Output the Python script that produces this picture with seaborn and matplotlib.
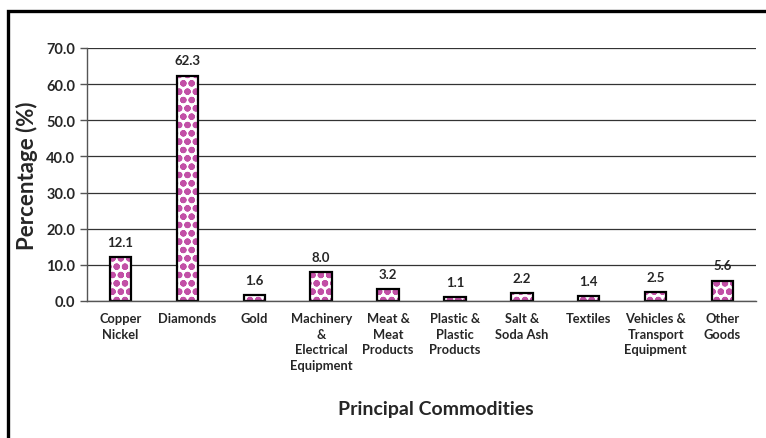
import numpy as np
import pandas as pd
import seaborn as sns
import matplotlib.pyplot as plt
import matplotlib.patches as mpatches

# --- Data ---
COMMODITIES = ['Copper\nNickel', 'Diamonds', 'Gold', 'Machinery\n&\nElectrical\nEquipment',
               'Meat &\nMeat\nProducts', 'Plastic &\nPlastic\nProducts', 'Salt &\nSoda Ash',
               'Textiles', 'Vehicles &\nTransport\nEquipment', 'Other\nGoods']
SHARES = [12.1, 62.3, 1.6, 8.0, 3.2, 1.1, 2.2, 1.4, 2.5, 5.6]
Y_TICKS = [0, 10, 20, 30, 40, 50, 60, 70]

# --- Style ---
DOT_COLOR = '#C250A6'
FONT = 'Lato'
BAR_WIDTH = 0.32
HATCH = 'oo'

sns.set_style('white')
plt.rcParams['font.family'] = [FONT, 'DejaVu Sans']
plt.rcParams['hatch.linewidth'] = 2.2

df = pd.DataFrame({'Commodity': COMMODITIES, 'Share': SHARES})

fig = plt.figure(figsize=(7.66, 4.39), dpi=100)
ax = fig.add_axes([87 / 766, 1 - 302 / 439, (756 - 87) / 766, (302 - 49) / 439])

# dotted fill (hatch takes the edge colour), then a black outline on top
sns.barplot(data=df, x='Commodity', y='Share', ax=ax, color='white',
            width=BAR_WIDTH, edgecolor=DOT_COLOR, linewidth=0, hatch=HATCH)
n_fill = len(ax.patches)
sns.barplot(data=df, x='Commodity', y='Share', ax=ax, fill=False,
            width=BAR_WIDTH, edgecolor='black', linewidth=1.6)
for bar in ax.patches[:n_fill]:
    bar.set_facecolor('white')
    bar.set_edgecolor(DOT_COLOR)
    bar.set_hatch(HATCH)
    bar.set_linewidth(0)

# value labels
for bar, v in zip(ax.patches[:n_fill], SHARES):
    ax.text(bar.get_x() + bar.get_width() / 2, v + 2.6, f'{v:.1f}',
            ha='center', va='bottom', fontsize=9.5, fontweight='bold')

ax.set_ylim(0, 70)
ax.set_xlim(-0.5, len(COMMODITIES) - 0.5)
ax.set_yticks(Y_TICKS)
ax.set_yticklabels([f'{t:.1f}' for t in Y_TICKS], fontsize=10.5, fontweight='bold')
ax.yaxis.grid(True, color='#333333', linewidth=0.9)
ax.set_axisbelow(True)

# x ticks between the categories, labels at centres
ax.set_xticks(np.arange(len(COMMODITIES)))
ax.set_xticklabels(COMMODITIES, fontsize=9.3, fontweight='bold', linespacing=1.35)
ax.xaxis.set_minor_locator(plt.FixedLocator(list(np.arange(len(COMMODITIES)) + 0.5)))
ax.tick_params(axis='x', which='major', length=0, pad=8)
ax.tick_params(axis='x', which='minor', length=4, width=1, color='#555555', direction='out')
ax.tick_params(axis='y', length=5, width=1, color='#555555', direction='out', left=True)

for side in ['top', 'right']:
    ax.spines[side].set_visible(False)
for side in ['left', 'bottom']:
    ax.spines[side].set_color('#555555')
    ax.spines[side].set_linewidth(1)

ax.set_xlabel('')
ax.set_ylabel('Percentage (%)', fontsize=16, fontweight='bold', labelpad=6)
fig.text(436 / 766, 1 - 410 / 439, 'Principal Commodities', ha='center', va='center',
         fontsize=14, fontweight='bold')

# outer frame (runs off the right and bottom edges)
frame = mpatches.Rectangle((8 / 766, -0.05), 1.0, 1 - 12 / 439 + 0.05,
                           transform=fig.transFigure, fill=False,
                           edgecolor='black', linewidth=2.4, clip_on=False)
fig.patches.append(frame)

fig.savefig('out.png', dpi=100)
plt.close(fig)
